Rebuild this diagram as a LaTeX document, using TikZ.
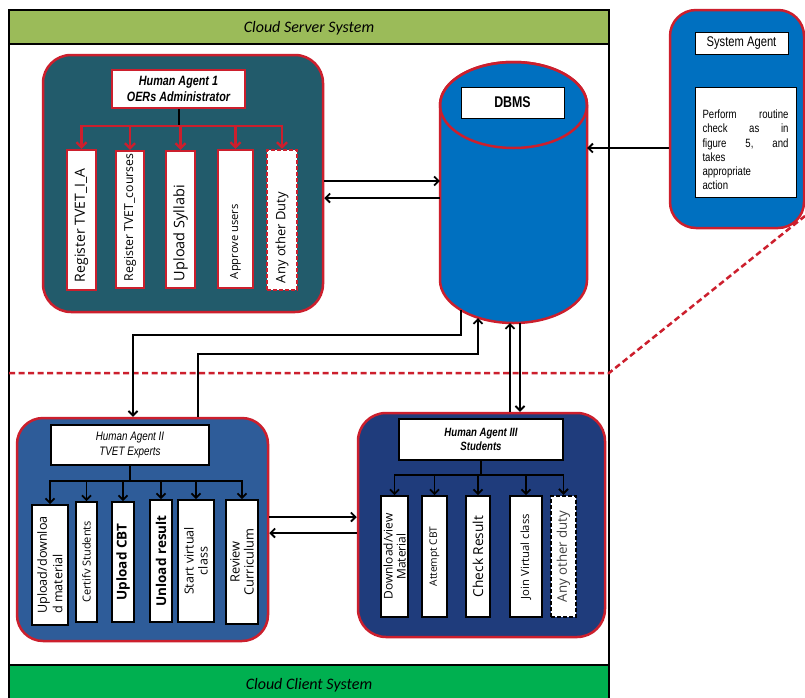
\documentclass[tikz,border=0pt]{standalone}
\usepackage{fontspec}
\setmainfont{Carlito}
\newfontfamily\arialfont{Liberation Sans}
\newfontfamily\narrowfont[FakeStretch=0.8]{Liberation Sans}
\newfontfamily\labelfont{Open Sans}
\usetikzlibrary{arrows.meta}
\definecolor{hdrgreen}{HTML}{9BBB59}
\definecolor{ftrgreen}{HTML}{00B050}
\definecolor{agentred}{HTML}{CC1F2D}
\definecolor{tealfill}{HTML}{225B6B}
\definecolor{dbblue}{HTML}{0070C0}
\definecolor{expblue}{HTML}{2E5C99}
\definecolor{stublue}{HTML}{1F3C7C}
\newcommand\lsize[2]{\labelfont\fontsize{#1}{#2}\selectfont}
\tikzset{
  arr/.style={line width=1.8pt,-{Straight Barb[length=4.5pt,width=9pt]}},
  redarr/.style={draw=agentred,line width=2.2pt,-{Straight Barb[length=5pt,width=10pt]}},
  agent/.style={draw=agentred,line width=2.5pt,rounded corners=28pt,inner sep=0pt},
  redtask/.style={draw=agentred,fill=white,line width=2.5pt,inner sep=0pt},
  blacktask/.style={draw=black,fill=white,line width=1.8pt,inner sep=0pt},
  dashtask/.style={draw=agentred,fill=white,line width=2.5pt,inner sep=0pt,dash pattern=on 4pt off 2pt},
  vlabel/.style={rotate=90,inner sep=0pt,align=center},
  titlebox/.style={draw=black,fill=white,line width=1.8pt,inner sep=0pt,align=center},
  band/.style={draw=black,line width=2.5pt},
  reddash/.style={draw=agentred,line width=2.5pt,dash pattern=on 6pt off 3.5pt},
}
\begin{document}
\begin{tikzpicture}[x=1pt,y=-1pt]
\useasboundingbox (0,0) rectangle (805,697);

% system frame with its two bands
\draw[band,fill=white] (9,10) rectangle (609,702);
\draw[band,fill=hdrgreen] (9,10) rectangle (609,44);
\draw[band,fill=ftrgreen] (9,665) rectangle (609,702);
\node[font=\itshape\fontsize{16}{18}\selectfont] (srv) at (309,28) {Cloud Server System};
\node[font=\itshape\fontsize{16}{18}\selectfont] (cli) at (309,685) {Cloud Client System};

% boundary between server and client side
\draw[reddash] (9,373) -- (609,373) -- (805,216);

% ---------------- Human Agent 1 ----------------
\node[agent,fill=tealfill,minimum width=280pt,minimum height=257pt] (ha1) at (183,183.5) {};
\node[draw=agentred,fill=white,line width=2.5pt,inner sep=0pt,minimum width=133pt,minimum height=38pt,align=center,
      font=\narrowfont\bfseries\itshape\fontsize{13.5}{15.5}\selectfont] (t1) at (178.5,89) {Human Agent 1\\OERs Administrator};
\node[redtask,minimum width=29pt,minimum height=140pt] (a1) at (81.5,220) {};
\node[redtask,minimum width=28pt,minimum height=137pt] (a2) at (130,219.5) {};
\node[redtask,minimum width=29pt,minimum height=137pt] (a3) at (180.5,219.5) {};
\node[redtask,minimum width=35pt,minimum height=138pt] (a4) at (235.5,219) {};
\node[dashtask,minimum width=30pt,minimum height=140pt] (a5) at (282,220) {};
\node[vlabel,anchor=west,font=\lsize{14}{16}] (a1t) at ([yshift=9pt]a1.south) {Register TVET\_I\_A};
\node[vlabel,anchor=west,font=\lsize{12.3}{14}] (a2t) at ([yshift=8pt]a2.south) {Register TVET\_courses};
\node[vlabel,anchor=west,font=\lsize{14.5}{16}] (a3t) at ([yshift=8pt]a3.south) {Upload Syllabi};
\node[vlabel,anchor=west,font=\lsize{11.2}{12}] (a4t) at ([yshift=10pt]a4.south) {Approve users};
\node[vlabel,anchor=west,font=\lsize{13}{15}] (a5t) at ([yshift=8pt]a5.south) {Any other Duty};
\coordinate (bus1) at (t1.south |- 0,126);
\draw[line width=2pt] (t1.south) -- (bus1);
\foreach \b in {a1,a2,a3,a4,a5} \draw[redarr] (bus1) -| (\b.north);

% ---------------- DBMS ----------------
\filldraw[fill=dbblue,draw=agentred,line width=2.5pt]
  (440,105) -- (440,280) arc[start angle=180,end angle=360,x radius=73.5pt,y radius=43pt]
  -- (587,105) arc[start angle=0,end angle=180,x radius=73.5pt,y radius=43pt] -- cycle;
\draw[draw=agentred,line width=2.5pt] (513.5,105) ellipse[x radius=73.5pt,y radius=43pt];
\node[minimum width=147pt,minimum height=261pt,inner sep=0pt] (dbms) at (513.5,192.5) {};
\node[draw=black,fill=white,line width=1pt,minimum width=103pt,minimum height=31pt,inner sep=0pt,
      font=\narrowfont\bfseries\fontsize{15.5}{17}\selectfont] (dbl) at (512.5,102.5) {DBMS};
\coordinate (dbB1) at (461,310);
\coordinate (dbB2) at (478,318);
\coordinate (dbB3) at (510,323);
\coordinate (dbB4) at (520,322.5);

% ---------------- System Agent ----------------
\node[agent,fill=dbblue,rounded corners=26pt,minimum width=134pt,minimum height=218pt] (sa) at (737,119) {};
\node[draw=black,fill=white,line width=0.8pt,minimum width=93pt,minimum height=22pt,inner sep=0pt,
      font=\narrowfont\fontsize{14}{16}\selectfont] (sat) at (741.5,43) {System Agent};
\node[draw=black,fill=white,line width=0.8pt,minimum width=101pt,minimum height=110pt,inner sep=0pt] (sab) at (745.5,142) {};
\node[text width=86pt,align=left,inner sep=0pt,font=\narrowfont\fontsize{12}{14.2}\selectfont] (sabt) at ([yshift=-8pt]sab.center)
  {Perform\hfill routine\\check\hfill as\hfill in\\figure\hfill 5,\hfill and\\takes\\appropriate\\action};

% ---------------- Human Agent II ----------------
\node[agent,fill=expblue,rounded corners=26pt,minimum width=251pt,minimum height=223pt] (ha2) at (142.5,529.5) {};
\node[titlebox,minimum width=158pt,minimum height=40pt,font=\narrowfont\itshape\fontsize{12.3}{14.5}\selectfont] (t2) at (130,445) {Human Agent II\\TVET Experts};
\node[blacktask,minimum width=36pt,minimum height=120pt] (b1) at (50,565) {};
\node[blacktask,minimum width=21pt,minimum height=120pt] (b2) at (86.5,562) {};
\node[blacktask,minimum width=22pt,minimum height=120pt] (b3) at (123,562) {};
\node[blacktask,minimum width=22pt,minimum height=122pt] (b4) at (161,561) {};
\node[blacktask,minimum width=36pt,minimum height=122pt] (b5) at (196,561) {};
\node[blacktask,minimum width=32pt,minimum height=124pt] (b6) at (242,562) {};
\node[vlabel,align=left,anchor=west,font=\lsize{12.6}{15.5}] (b1t) at ([yshift=12pt]b1.south) {Upload/downloa\\d material};
\node[vlabel,font=\lsize{11}{12}] (b2t) at (b2.center) {Certifv Students};
\node[vlabel,font=\lsize{13.5}{15}\bfseries] (b3t) at (b3.center) {Upload CBT};
\node[vlabel,font=\lsize{13.5}{15}\bfseries] (b4t) at (b4.center) {Unload result};
\node[vlabel,font=\lsize{12.5}{14}] (b5t) at (b5.center) {Start virtual\\class};
\node[vlabel,font=\lsize{12.8}{14}] (b6t) at (b6.center) {Review\\Curriculum};
\coordinate (bus2) at (t2.south |- 0,481);
\draw[line width=2pt] (t2.south) -- (bus2);
\foreach \b in {b1,b2,b3,b4,b5,b6} \draw[arr] (bus2) -| (\b.north);

% ---------------- Human Agent III ----------------
\node[agent,fill=stublue,minimum width=247pt,minimum height=224pt] (ha3) at (481.5,525) {};
\node[titlebox,minimum width=164pt,minimum height=41pt,font=\narrowfont\bfseries\itshape\fontsize{12}{14.5}\selectfont] (t3) at (481,439.5) {Human Agent III\\Students};
\node[blacktask,minimum width=27pt,minimum height=121pt] (c1) at (394.5,556.5) {};
\node[blacktask,minimum width=25pt,minimum height=121pt] (c2) at (434.5,556.5) {};
\node[blacktask,minimum width=24pt,minimum height=121pt] (c3) at (478,556.5) {};
\node[blacktask,minimum width=32pt,minimum height=121pt] (c4) at (526,556.5) {};
\node[dashtask,draw=black,minimum width=25pt,minimum height=121pt] (c5) at (563.5,556.5) {};
\node[vlabel,font=\lsize{12}{13}] (c1t) at (c1.center) {Download/view\\Material};
\node[vlabel,font=\lsize{10.2}{11}] (c2t) at (c2.center) {Attempt CBT};
\node[vlabel,font=\lsize{13.7}{15}] (c3t) at (c3.center) {Check Result};
\node[vlabel,font=\lsize{11.3}{13}] (c4t) at (c4.center) {Join Virtual class};
\node[vlabel,text=black!75,font=\lsize{13.3}{15}] (c5t) at (c5.center) {Any other duty};
\coordinate (bus3) at (t3.south |- 0,475);
\draw[line width=2pt] (t3.south) -- (bus3);
\foreach \b in {c1,c2,c3,c4,c5} \draw[arr] (bus3) -| (\b.north);

% ---------------- connectors ----------------
\draw[arr] (ha1.east |- 0,181) -- (dbms.west |- 0,181);
\draw[arr] (dbms.west |- 0,198) -- (ha1.east |- 0,198);
\draw[arr] (sa.west |- 0,148) -- (dbms.east |- 0,148);
\draw[arr] (dbB1) |- (133,335) -- (ha2.north -| 133,0);
\draw[arr] (ha2.north -| 198,0) |- (478,354) -- (dbB2);
\draw[arr] (ha3.north -| 510,0) -- (dbB3);
\draw[arr] (dbB4) -- (ha3.north -| 520,0);
\draw[arr] (ha2.east |- 0,517) -- (ha3.west |- 0,517);
\draw[arr] (ha3.west |- 0,533) -- (ha2.east |- 0,533);
\end{tikzpicture}
\end{document}
